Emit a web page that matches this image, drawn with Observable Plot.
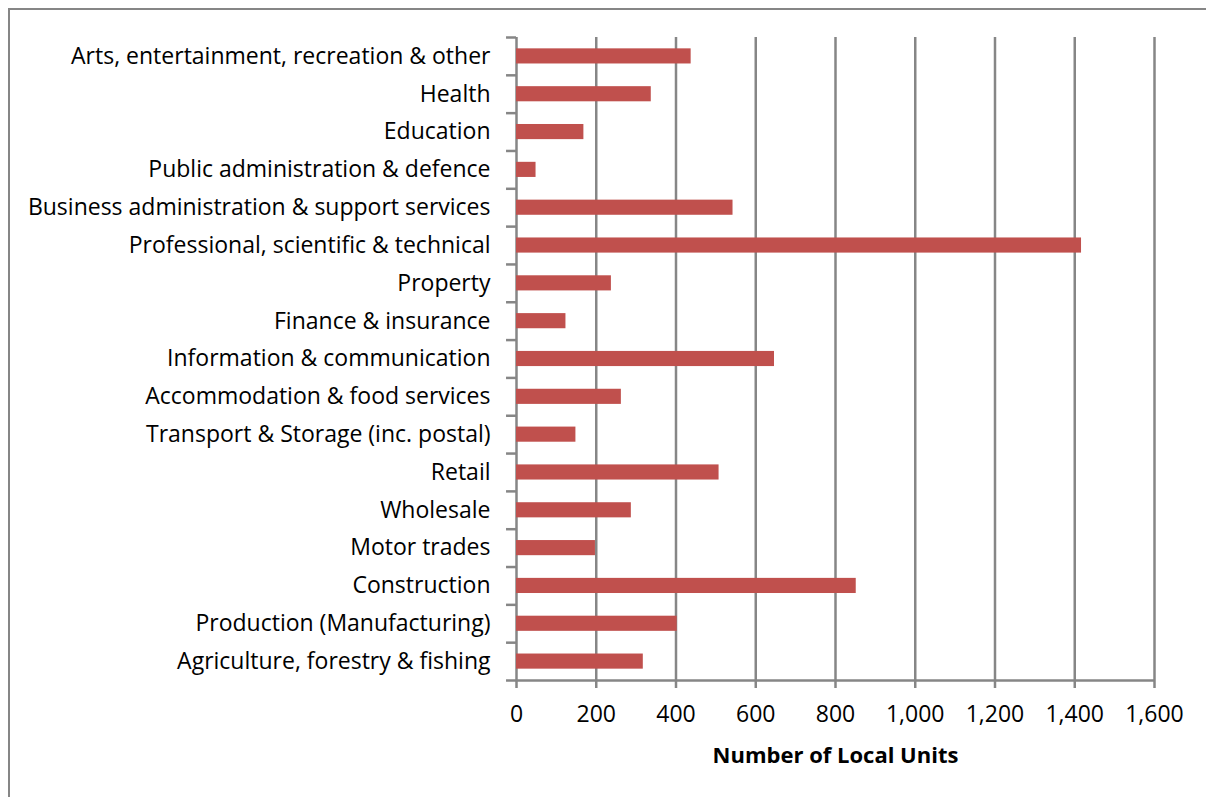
<!DOCTYPE html>
<html>
<head>
<meta charset="utf-8">
<script src="https://cdn.jsdelivr.net/npm/d3@7"></script>
<script src="https://cdn.jsdelivr.net/npm/@observablehq/plot@0.6"></script>
<style>
  html, body { margin: 0; padding: 0; background: #fff; overflow: hidden; }
  #wrap { position: relative; width: 1206px; height: 797px; }
  #border { position: absolute; left: 8px; top: 8px; width: 1400px; height: 1000px; border: 2px solid #868686; box-sizing: border-box; }
  #chart { position: absolute; left: 0; top: 0; }
  svg text { fill: #000; }
</style>
</head>
<body>
<div id="wrap"><div id="border"></div><div id="chart"></div></div>
<script>
const categories = [
  "Arts, entertainment, recreation & other",
  "Health",
  "Education",
  "Public administration & defence",
  "Business administration & support services",
  "Professional, scientific & technical",
  "Property",
  "Finance & insurance",
  "Information & communication",
  "Accommodation & food services",
  "Transport & Storage (inc. postal)",
  "Retail",
  "Wholesale",
  "Motor trades",
  "Construction",
  "Production (Manufacturing)",
  "Agriculture, forestry & fishing"
];
const values = [438, 338, 169, 49, 543, 1417, 238, 124, 647, 263, 149, 508, 288, 198, 852, 403, 318];
const xTicks = [0, 200, 400, 600, 800, 1000, 1200, 1400, 1600];
const xLabel = "Number of Local Units";

const data = categories.map((c, i) => ({category: c, value: values[i]}));
const fmt = d3.format(",");
const grey = "#868686";
const half = (797 - 117 - 37) / categories.length / 2;

const plot = Plot.plot({
  width: 1206,
  height: 797,
  marginLeft: 516,
  marginRight: 52,
  marginTop: 37,
  marginBottom: 117,
  style: {fontFamily: "'Open Sans', sans-serif", fontSize: "23px", color: "#000", background: "transparent"},
  x: {domain: [0, 1600], ticks: xTicks, label: null},
  y: {domain: categories, paddingInner: 0.6, paddingOuter: 0.3, round: false, label: null},
  marks: [
    Plot.gridX(xTicks, {stroke: grey, strokeOpacity: 1, strokeWidth: 2.5}),
    Plot.ruleY(categories, {y: d => d, x1: -25, x2: 0, dy: -half, stroke: grey, strokeWidth: 2.5}),
    Plot.ruleY([categories[categories.length - 1]], {y: d => d, x1: -25, x2: 1600, dy: half, stroke: grey, strokeWidth: 2.5}),
    Plot.barX(data, {x: "value", y: "category", fill: "#C0504D"}),
    Plot.axisY({tickSize: 0, tickPadding: 26, fontSize: 23}),
    Plot.axisX({ticks: xTicks, tickFormat: fmt, tickSize: 8, tickPadding: 17, stroke: grey, strokeWidth: 2.5, fontSize: 23}),
    Plot.text([xLabel], {frameAnchor: "bottom", dy: 82, fontWeight: "bold", fontSize: 22, text: d => d})
  ]
});
document.getElementById("chart").append(plot);
</script>
</body>
</html>
